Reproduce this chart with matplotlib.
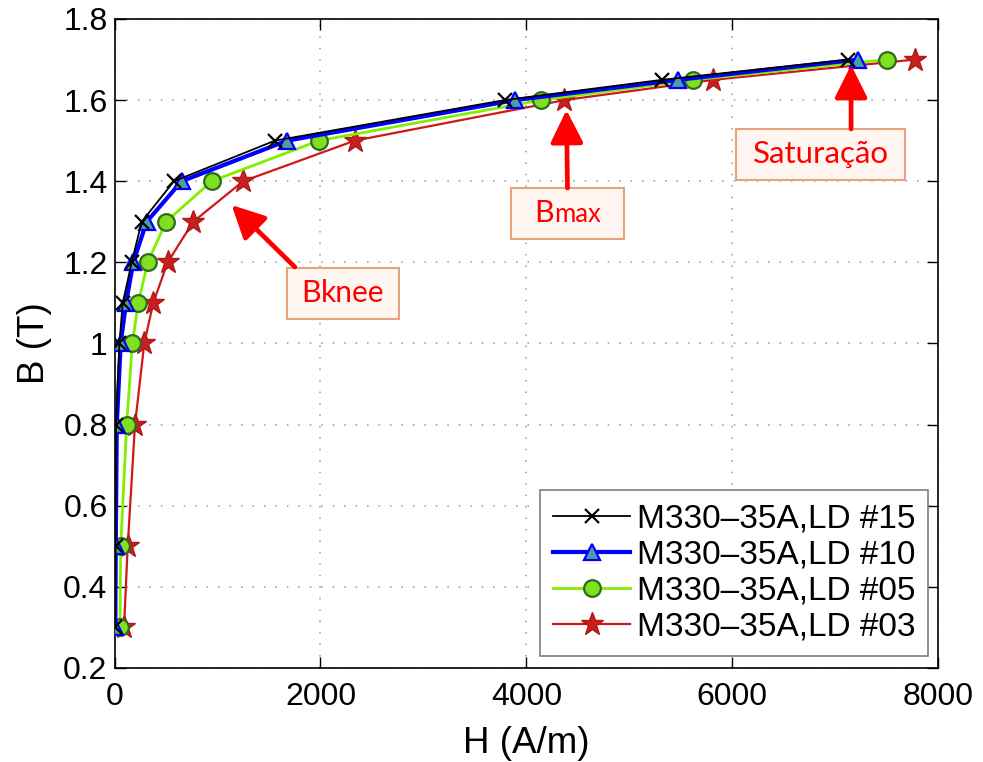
import matplotlib
matplotlib.use("Agg")
import matplotlib.pyplot as plt
from matplotlib.patches import Rectangle
from matplotlib.offsetbox import TextArea, HPacker, AnnotationBbox

# Flux density levels (T)
B_levels = [0.3, 0.5, 0.8, 1.0, 1.1, 1.2, 1.3, 1.4, 1.5, 1.6, 1.65, 1.7]

# Magnetic field strength (A/m) for each sample
H_ld15 = [5, 10, 15, 47, 80, 167, 264, 577, 1557, 3788, 5317, 7127]
H_ld10 = [8, 12, 22, 60, 112, 182, 312, 652, 1676, 3891, 5475, 7224]
H_ld05 = [53, 60, 118, 173, 231, 322, 500, 943, 1984, 4143, 5621, 7505]
H_ld03 = [92, 128, 199, 289, 376, 516, 764, 1249, 2333, 4370, 5815, 7774]

series_labels = ["M330\u201335A,LD #15", "M330\u201335A,LD #10",
                 "M330\u201335A,LD #05", "M330\u201335A,LD #03"]

x_ticks = [0, 2000, 4000, 6000, 8000]
y_ticks = [0.2, 0.4, 0.6, 0.8, 1.0, 1.2, 1.4, 1.6, 1.8]
y_ticklabels = ["0.2", "0.4", "0.6", "0.8", "1", "1.2", "1.4", "1.6", "1.8"]

plt.rcParams["font.family"] = ["Liberation Sans", "DejaVu Sans"]

fig = plt.figure(figsize=(9.83, 7.62), dpi=100)
ax = fig.add_axes([0.1165, 0.1234, 0.838, 0.8517])

ax.plot(H_ld15, B_levels, color="black", lw=1.3, marker="x", ms=10,
        mew=1.6, label=series_labels[0], zorder=5)
ax.plot(H_ld10, B_levels, color="#0000FF", lw=3, marker="^", ms=12,
        mfc="#4F9E9E", mec="#0000FF", mew=1.6, label=series_labels[1], zorder=4)
ax.plot(H_ld05, B_levels, color="#80F000", lw=2, marker="o", ms=12,
        mfc="#7FE020", mec="#2F6A1C", mew=1.6, label=series_labels[2], zorder=3)
ax.plot(H_ld03, B_levels, color="#D01818", lw=1.6, marker="*", ms=17,
        mfc="#C81E1E", mec="#B01818", mew=1, label=series_labels[3], zorder=2)

ax.set_xlim(0, 8000)
ax.set_ylim(0.2, 1.8)
ax.set_xticks(x_ticks)
ax.set_yticks(y_ticks)
ax.set_yticklabels(y_ticklabels)
ax.tick_params(direction="in", length=8, width=1, top=True, right=True,
               labelsize=23)
ax.tick_params(axis="x", pad=10)
ax.tick_params(axis="y", pad=5)
ax.grid(True, linestyle=(0, (1, 6.5)), color="#9A9A9A", lw=1.1)
for s in ax.spines.values():
    s.set_linewidth(1.2)

ax.set_xlabel("H (A/m)", fontsize=26.5, labelpad=10)
ax.set_ylabel("B (T)", fontsize=26.5, labelpad=8)

leg = ax.legend(loc="lower right", bbox_to_anchor=(0.988, 0.0185),
                borderaxespad=0, fontsize=24, handlelength=2.3,
                handletextpad=0.2, labelspacing=0.15, borderpad=0.4,
                fancybox=False, framealpha=1, edgecolor="#7F7F7F")
leg.get_frame().set_linewidth(1.2)

# Callout boxes with red labels and arrows
callouts = [
    # (text parts, box extent H0, H1, B0, B1, arrow tail, arrow tip)
    ([("B", 22), ("knee", 21.5)], (1676, 2762, 1.0603, 1.1861), (1751, 1.1886), (1137, 1.3414)),
    ([("B", 22), ("max", 18.5)], (3855, 4944, 1.2576, 1.3833), (4399, 1.3833), (4389, 1.5756)),
    ([("Saturação", 22.5)], (6038, 7677, 1.4031, 1.5288), (7153, 1.5288), (7153, 1.6866)),
]
for parts, (h0, h1, b0, b1), tail, tip in callouts:
    ax.add_patch(Rectangle((h0, b0), h1 - h0, b1 - b0, facecolor="#FFF6F2",
                           edgecolor="#E6A27A", lw=1.5, zorder=6))
    areas = [TextArea(t, textprops=dict(color="#FF0000", fontsize=s,
                                        family=["Lato", "DejaVu Sans"]))
             for t, s in parts]
    pack = HPacker(children=areas, align="baseline", pad=0, sep=0)
    ab = AnnotationBbox(pack, ((h0 + h1) / 2, (b0 + b1) / 2), xycoords="data",
                        frameon=False, box_alignment=(0.5, 0.5), zorder=7)
    ax.add_artist(ab)
    ax.annotate("", xy=tip, xytext=tail, xycoords="data", textcoords="data",
                arrowprops=dict(arrowstyle="-|>,head_length=1.0,head_width=0.5",
                                color="#FF0000", lw=3.4, mutation_scale=20,
                                shrinkA=0, shrinkB=0), zorder=8)

fig.savefig("out.png", dpi=100)
